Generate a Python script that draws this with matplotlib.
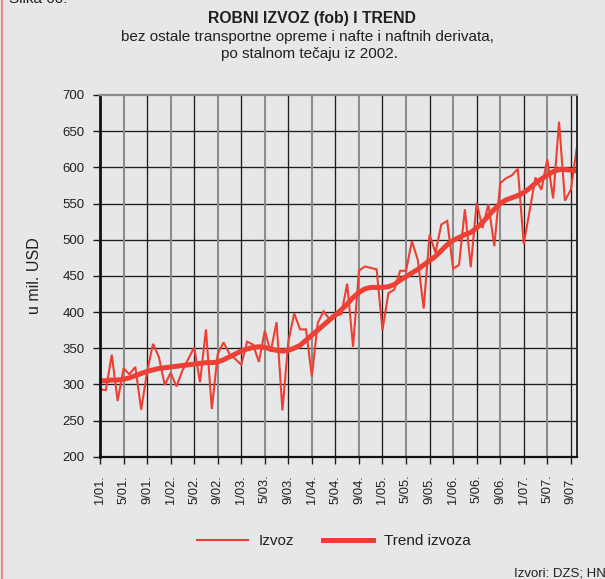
#!/usr/bin/env python3
from __future__ import annotations

import matplotlib

matplotlib.use("Agg")
import matplotlib.pyplot as plt
from matplotlib.lines import Line2D


# Monthly goods exports (fob), 1/2001 - 10/2007, mil. USD at constant 2002 rate
IZVOZ = [
    293, 292, 341, 277, 322, 314, 324, 265, 317, 356, 338, 299,
    316, 297, 319, 335, 351, 303, 376, 266, 342, 358, 342, 335,
    327, 359, 355, 331, 374, 345, 386, 264, 359, 398, 376, 376,
    311, 385, 401, 390, 395, 397, 439, 352, 457, 463, 461, 459,
    375, 426, 431, 457, 457, 498, 472, 405, 507, 482, 521, 526,
    460, 465, 542, 462, 551, 516, 549, 491, 578, 585, 589, 598,
    494, 540, 586, 569, 611, 557, 663, 554, 569, 626,
]
TREND = [
    305, 305, 306, 306, 307, 309, 312, 315, 318, 320, 322, 323,
    324, 325, 326, 327, 328, 329, 330, 330, 331, 334, 338, 342,
    346, 349, 351, 352, 351, 349, 347, 346, 347, 350, 354, 361,
    368, 375, 382, 389, 396, 403, 411, 420, 427, 432, 434, 434,
    434, 435, 438, 444, 449, 454, 459, 465, 471, 477, 485, 493,
    499, 503, 507, 510, 516, 524, 533, 542, 550, 555, 558, 561,
    565, 571, 578, 584, 589, 594, 597, 597, 596, 595,
]
TICK_LABELS = [
    "1/01.", "5/01.", "9/01.", "1/02.", "5/02.", "9/02.", "1/03.",
    "5/03.", "9/03.", "1/04.", "5/04.", "9/04.", "1/05.", "5/05.",
    "9/05.", "1/06.", "5/06.", "9/06.", "1/07.", "5/07.", "9/07.",
]
Y_TICKS = [200, 250, 300, 350, 400, 450, 500, 550, 600, 650, 700]

TICK_STEP = 4
BG = "#e6e7e8"
RED = "#ec4034"
INK = "#231f20"
FONT = ["Liberation Sans", "DejaVu Sans"]

W, H = 605, 579


def fx(px: float) -> float:
    return px / W


def fy(py: float) -> float:
    return 1 - py / H


def main() -> int:
    plt.rcParams["font.family"] = FONT
    fig = plt.figure(figsize=(W / 100, H / 100), dpi=100, facecolor=BG)

    left, right, top, bottom = 100, 576.7, 95, 456.7
    ax = fig.add_axes([fx(left), fy(bottom), fx(right - left), (bottom - top) / H])
    ax.set_facecolor(BG)

    months = list(range(len(IZVOZ)))
    ax.set_xlim(0, len(IZVOZ) - 1)
    ax.set_ylim(Y_TICKS[0], Y_TICKS[-1])

    # horizontal grid black, vertical grid alternating black / grey
    for value in Y_TICKS[1:-1]:
        ax.axhline(value, color="#1e1e1e", lw=0.95, zorder=1)
    tick_pos = months[::TICK_STEP]
    for k, pos in enumerate(tick_pos):
        if k == 0:
            continue
        if k % 2 == 0:
            ax.axvline(pos, color="#1e1e1e", lw=0.95, zorder=1)
        else:
            ax.axvline(pos, color="#8c8c8c", lw=1.5, zorder=1)

    ax.plot(months, IZVOZ, color=RED, lw=1.5, zorder=3, solid_joinstyle="miter")
    ax.plot(months, TREND, color=RED, lw=3.6, zorder=4, solid_capstyle="butt")

    ax.set_xticks(tick_pos)
    ax.set_xticklabels(TICK_LABELS, rotation=90, fontsize=9.3, color=INK)
    ax.set_yticks(Y_TICKS)
    ax.set_yticklabels([str(v) for v in Y_TICKS], fontsize=9.5, color=INK)
    ax.tick_params(axis="both", direction="out", length=5, width=1, color="#1e1e1e")
    ax.tick_params(axis="y", pad=6)
    ax.tick_params(axis="x", pad=8)

    for side, color, lw in (
        ("left", "#111111", 2.0),
        ("bottom", "#111111", 1.6),
        ("right", "#2a2a2a", 1.4),
        ("top", "#8c8c8c", 1.6),
    ):
        ax.spines[side].set_color(color)
        ax.spines[side].set_linewidth(lw)
        ax.spines[side].set_zorder(5)

    ax.set_ylabel("u mil. USD", fontsize=11.5, color=INK)
    ax.yaxis.set_label_coords((42 - left) / (right - left), 0.5)

    fig.text(fx(312), fy(18), "ROBNI IZVOZ (fob) I TREND", ha="center", va="center",
             fontsize=11.3, fontweight="bold", color=INK)
    fig.text(fx(307), fy(37), "bez ostale transportne opreme i nafte i naftnih derivata,",
             ha="center", va="center", fontsize=11, color=INK)
    fig.text(fx(309), fy(54), "po stalnom tečaju iz 2002.", ha="center", va="center",
             fontsize=11, color=INK)
    fig.text(fx(9), fy(3), "Slika 60:", ha="left", va="baseline", fontsize=11, color=INK)
    fig.text(fx(514), fy(573), "Izvori: DZS; HNB.", ha="left", va="center",
             fontsize=9.5, color=INK)

    handles = [
        Line2D([], [], color=RED, lw=1.5),
        Line2D([], [], color=RED, lw=3.6),
    ]
    fig.legend(handles, ["Izvoz", "Trend izvoza"], loc="center",
               bbox_to_anchor=(fx(334), fy(541)), ncol=2, frameon=False,
               fontsize=11, handlelength=3.3, handletextpad=0.7, columnspacing=1.9,
               labelcolor=INK)

    # thin red edge line on the left of the panel
    fig.add_artist(Line2D([fx(1.5), fx(1.5)], [0, 1], transform=fig.transFigure,
                          color="#ec8a82", lw=1.5))

    fig.savefig("out.png", dpi=100, facecolor=BG)
    plt.close(fig)
    return 0


if __name__ == "__main__":
    raise SystemExit(main())
